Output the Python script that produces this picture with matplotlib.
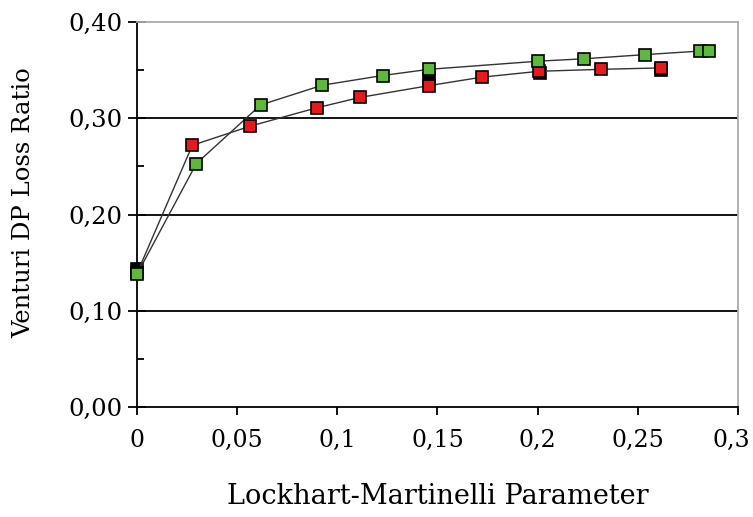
import numpy as np
import matplotlib
matplotlib.use("Agg")
import matplotlib.pyplot as plt
from matplotlib.ticker import FuncFormatter, MultipleLocator
from matplotlib.transforms import ScaledTranslation

# data
green_x = [0.0, 0.0296, 0.0617, 0.0925, 0.1226, 0.1456, 0.2004, 0.2232, 0.2535, 0.281, 0.2857]
green_y = [0.138, 0.253, 0.314, 0.3345, 0.3446, 0.351, 0.3595, 0.362, 0.3663, 0.370, 0.370]
red_x = [0.0, 0.0276, 0.0566, 0.0897, 0.1113, 0.1456, 0.1722, 0.2007, 0.2315, 0.2614]
red_y = [0.139, 0.272, 0.292, 0.311, 0.3218, 0.334, 0.3429, 0.349, 0.351, 0.3525]
black_x = [0.0, 0.1456, 0.2012, 0.2614]
black_y = [0.143, 0.341, 0.347, 0.350]

xticks = [0, 0.05, 0.1, 0.15, 0.2, 0.25, 0.3]
yticks = [0.0, 0.1, 0.2, 0.3, 0.4]

plt.rcParams['font.family'] = ['DejaVu Serif']

fig = plt.figure(figsize=(7.53, 5.17), dpi=100)
ax = fig.add_axes([0.182, 0.213, 0.798, 0.744])

for y in [0.1, 0.2, 0.3]:
    ax.axhline(y, color='black', lw=1.3, zorder=1)

ax.plot(black_x, black_y, 's', color='black', ms=8.5, mec='black', mew=1.2, zorder=2, clip_on=False)
ax.plot(green_x, green_y, '-', color='#333333', lw=1.0, zorder=3)
ax.plot(red_x, red_y, '-', color='#333333', lw=1.0, zorder=3)
ax.plot(red_x, red_y, 's', color='#e8191e', ms=8.5, mec='black', mew=1.2, zorder=4, clip_on=False)
ax.plot(green_x, green_y, 's', color='#5db83c', ms=8.5, mec='black', mew=1.2, zorder=5, clip_on=False)

ax.set_xlim(0, 0.3)
ax.set_ylim(0, 0.4)
ax.set_xticks(xticks)
ax.set_yticks(yticks)
ax.yaxis.set_minor_locator(MultipleLocator(0.05))

def xfmt(v, pos):
    s = ('%.2f' % v).rstrip('0').rstrip('.')
    return s.replace('.', ',')

ax.xaxis.set_major_formatter(FuncFormatter(xfmt))
ax.yaxis.set_major_formatter(FuncFormatter(lambda v, p: ('%.2f' % v).replace('.', ',')))

for s in ['top', 'right']:
    ax.spines[s].set_color('#aaaaaa')
    ax.spines[s].set_linewidth(1.3)
for s in ['left', 'bottom']:
    ax.spines[s].set_color('black')
    ax.spines[s].set_linewidth(1.3)

ax.tick_params(axis='x', direction='out', length=6, width=1.3, labelsize=17, pad=10)
ax.tick_params(axis='y', which='major', direction='inout', length=13, width=1.3, labelsize=17.5, pad=4)
ax.tick_params(axis='y', which='minor', direction='in', length=5, width=1.3)

ax.set_xlabel('Lockhart-Martinelli Parameter', fontsize=19.5, labelpad=22)
ax.set_ylabel('Venturi DP Loss Ratio', fontsize=17.5, labelpad=24)
ax.yaxis.set_label_coords(-0.17, 0.53)

# last x label sits right at the figure edge, nudge it in a bit
last = ax.get_xticklabels()[-1]
last.set_transform(last.get_transform() + ScaledTranslation(-5 / 72, 0, fig.dpi_scale_trans))

fig.savefig('out.png', dpi=100)
